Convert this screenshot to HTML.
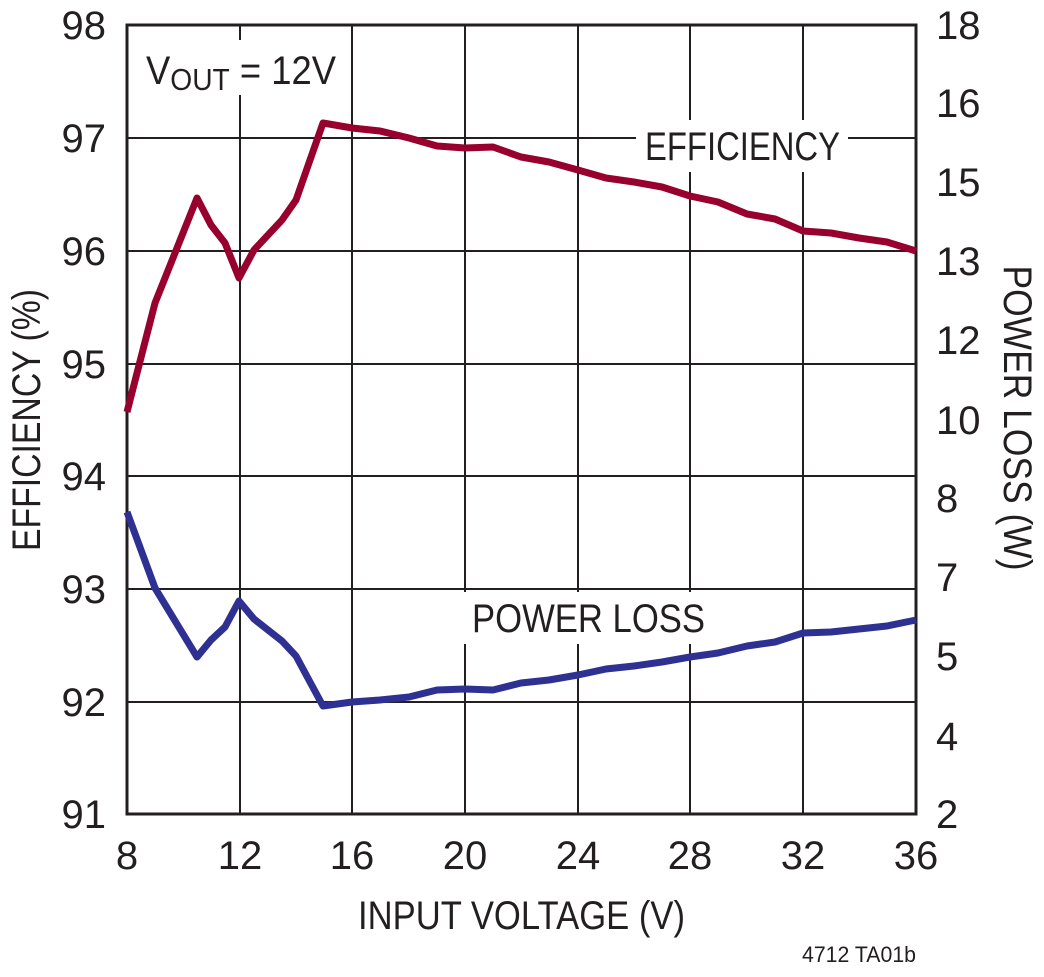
<!DOCTYPE html>
<html><head><meta charset="utf-8"><style>
html,body{margin:0;padding:0;background:#fff;}
svg text{font-family:"Liberation Sans Narrow","Liberation Sans",sans-serif;fill:#231f20;}
</style></head><body>
<svg width="1044" height="972" viewBox="0 0 1044 972" xmlns="http://www.w3.org/2000/svg">
<g stroke="#231f20" stroke-width="2">
<line x1="127" y1="138" x2="916" y2="138"/><line x1="127" y1="251" x2="916" y2="251"/>
<line x1="127" y1="364" x2="916" y2="364"/><line x1="127" y1="476" x2="916" y2="476"/>
<line x1="127" y1="589" x2="916" y2="589"/><line x1="127" y1="702" x2="916" y2="702"/>
<line x1="240" y1="25" x2="240" y2="814"/><line x1="352" y1="25" x2="352" y2="814"/>
<line x1="465" y1="25" x2="465" y2="814"/><line x1="578" y1="25" x2="578" y2="814"/>
<line x1="690" y1="25" x2="690" y2="814"/><line x1="803" y1="25" x2="803" y2="814"/>
</g>
<rect x="127" y="25" width="789" height="789" fill="none" stroke="#231f20" stroke-width="3"/>
<rect x="138" y="40" width="210" height="55" fill="#fff"/>
<rect x="636" y="120" width="212" height="52" fill="#fff"/>
<rect x="462" y="592" width="252" height="52" fill="#fff"/>
<text x="146" y="84" font-size="40" textLength="190" lengthAdjust="spacingAndGlyphs">V<tspan font-size="31" dy="6">OUT</tspan><tspan dy="-6"> = 12V</tspan></text>
<text x="645" y="160" font-size="40" textLength="195" lengthAdjust="spacingAndGlyphs">EFFICIENCY</text>
<text x="472" y="632" font-size="40" textLength="233" lengthAdjust="spacingAndGlyphs">POWER LOSS</text>
<polyline fill="none" stroke="#98002e" stroke-width="7" stroke-linejoin="round" points="127,412 155,303 197,198 211,225 225,243 239,278 254,250 282,220 296,200 310,160 323,123 352,128 380,131 409,138 437,146 465,148 493,147 521,157 549,162 578,170 606,178 634,182 662,187 690,196 718,202 747,214 775,219 803,231 831,233 859,238 887,242 916,251"/>
<polyline fill="none" stroke="#2e3192" stroke-width="7" stroke-linejoin="round" points="127,512 155,588 197,657 211,640 225,627 239,601 254,619 282,641 296,656 310,682 323,706 352,702 380,700 409,697 437,690 465,689 493,690 521,683 549,680 578,675 606,669 634,666 662,662 690,657 718,653 747,646 775,642 803,633 831,632 859,629 887,626 916,620"/>
<g font-size="40" text-anchor="end">
<text x="106" y="39">98</text><text x="106" y="152">97</text><text x="106" y="265">96</text>
<text x="106" y="378">95</text><text x="106" y="490">94</text><text x="106" y="603">93</text>
<text x="106" y="716">92</text><text x="106" y="828">91</text>
</g>
<g font-size="40" text-anchor="start">
<text x="936" y="39">18</text><text x="936" y="117">16</text><text x="936" y="196">15</text>
<text x="936" y="275">13</text><text x="936" y="354">12</text><text x="936" y="434">10</text>
<text x="936" y="512">8</text><text x="936" y="591">7</text><text x="936" y="670">5</text>
<text x="936" y="750">4</text><text x="936" y="828">2</text>
</g>
<g font-size="40" text-anchor="middle">
<text x="127" y="869">8</text><text x="240" y="869">12</text><text x="352" y="869">16</text>
<text x="465" y="869">20</text><text x="578" y="869">24</text><text x="690" y="869">28</text>
<text x="803" y="869">32</text><text x="916" y="869">36</text>
</g>
<text x="358" y="929" font-size="40" textLength="327" lengthAdjust="spacingAndGlyphs">INPUT VOLTAGE (V)</text>
<text x="40" y="420" font-size="40" text-anchor="middle" textLength="262" lengthAdjust="spacingAndGlyphs" transform="rotate(-90 40 420)">EFFICIENCY (%)</text>
<text x="1004" y="418" font-size="40" text-anchor="middle" textLength="305" lengthAdjust="spacingAndGlyphs" transform="rotate(90 1004 418)">POWER LOSS (W)</text>
<text x="916" y="962" font-size="22" text-anchor="end" textLength="114" lengthAdjust="spacingAndGlyphs">4712 TA01b</text>
</svg>
</body></html>
